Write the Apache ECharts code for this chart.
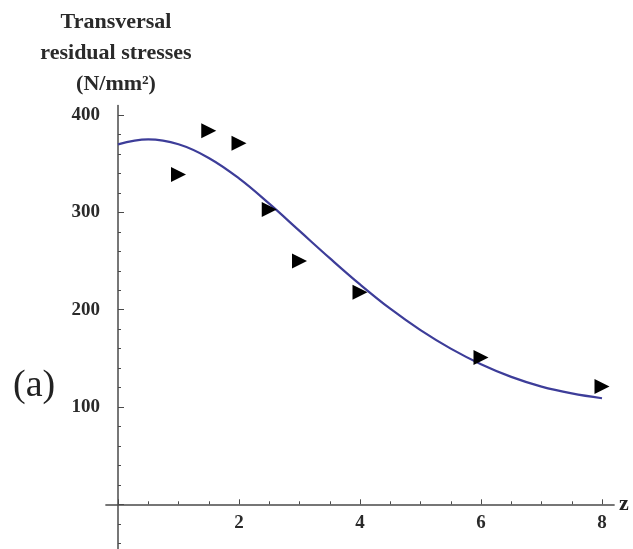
<!DOCTYPE html>
<html>
<head>
<meta charset="utf-8">
<script src="https://cdn.jsdelivr.net/npm/echarts@6/dist/echarts.min.js"></script>
<style>
html,body{margin:0;padding:0;background:#fff;}
#chart{width:633px;height:549px;}
</style>
</head>
<body>
<div id="chart"></div>
<script>
// Measured data points (triangles)
const pointX = [1, 1.5, 2, 2.5, 3, 4, 6, 8];
const pointY = [339, 384, 371, 303, 250, 218, 151, 121];
// Fitted curve, values
const curveX = [0, 0.5, 1, 1.5, 2, 2.5, 3, 3.5, 4, 4.5, 5, 5.5, 6, 6.5, 7, 7.5, 8];
const curveY = [370, 375, 370, 356, 335, 309, 281, 253, 226, 201, 179, 160, 144, 131, 121, 114, 109];
// Ticks and labels
const xMajorTicks = [0, 2, 4, 6, 8];
const xMinorTicks = [0.5, 1, 1.5, 2.5, 3, 3.5, 4.5, 5, 5.5, 6.5, 7, 7.5];
const xLabels = [2, 4, 6, 8];
const yMajorTicks = [-100, 0, 100, 200, 300, 400];
const yMinorTicks = [-80, -60, -40, -20, 20, 40, 60, 80, 120, 140, 160, 180, 220, 240, 260, 280, 320, 340, 360, 380];
const yLabels = [100, 200, 300, 400];
const titleLines = ['Transversal', 'residual stresses', '(N/mm²)'];

const axisColor = '#4a4a4a';
const labelFont = {fontFamily: '"Liberation Serif", "DejaVu Serif", serif', fontWeight: 'bold', fontSize: 19, color: '#2a2a2a'};

const chart = echarts.init(document.getElementById('chart'), null, {renderer: 'canvas'});

const yMin = -100, yMax = 410;
const gridTop = 105.4, gridBottom = -52.6;
const pxPerY = (549 - gridTop - gridBottom) / (yMax - yMin);
const xZeroOffset = -(0 - yMin) * pxPerY; // move x axis up to y = 0

const xBase = {type: 'value', min: -0.2, max: 8.2, splitLine: {show: false}};
const yBase = {type: 'value', min: yMin, max: yMax, splitLine: {show: false}};

chart.setOption({
  animation: false,
  backgroundColor: '#fff',
  grid: {left: 105.9, right: 18.9, top: gridTop, bottom: gridBottom, containLabel: false, outerBoundsMode: 'none'},
  xAxis: [
    Object.assign({}, xBase, {
      position: 'bottom', offset: xZeroOffset,
      name: 'z', nameLocation: 'end', nameGap: 5,
      nameTextStyle: Object.assign({}, labelFont, {fontSize: 22, color: '#222', verticalAlign: 'middle'}),
      axisLine: {show: true, onZero: false, lineStyle: {color: axisColor, width: 1.5}},
      axisTick: {show: true, inside: true, length: 5, customValues: xMajorTicks, lineStyle: {color: axisColor}},
      axisLabel: Object.assign({}, labelFont, {show: true, margin: 9, customValues: xLabels})
    }),
    Object.assign({}, xBase, {
      position: 'bottom', offset: xZeroOffset,
      axisLine: {show: false, onZero: false},
      axisTick: {show: true, inside: true, length: 3, customValues: xMinorTicks, lineStyle: {color: axisColor}},
      axisLabel: {show: false}
    })
  ],
  yAxis: [
    Object.assign({}, yBase, {
      position: 'left',
      axisLine: {show: true, onZero: true, onZeroAxisIndex: 0, lineStyle: {color: axisColor, width: 1.5}},
      axisTick: {show: true, inside: true, length: 6, customValues: yMajorTicks, lineStyle: {color: axisColor}},
      axisLabel: Object.assign({}, labelFont, {show: true, margin: 6, customValues: yLabels})
    }),
    Object.assign({}, yBase, {
      position: 'left',
      axisLine: {show: false, onZero: true, onZeroAxisIndex: 0},
      axisTick: {show: true, inside: true, length: 3, customValues: yMinorTicks, lineStyle: {color: axisColor}},
      axisLabel: {show: false}
    })
  ],
  series: [
    {
      type: 'line',
      xAxisIndex: 0, yAxisIndex: 0,
      data: curveX.map((x, i) => [x, curveY[i]]),
      smooth: 0.4,
      showSymbol: false,
      lineStyle: {color: '#3d3d99', width: 2.2},
      z: 2
    },
    {
      type: 'scatter',
      xAxisIndex: 0, yAxisIndex: 0,
      data: pointX.map((x, i) => [x, pointY[i]]),
      symbol: 'triangle',
      symbolRotate: -90,
      symbolSize: 15,
      itemStyle: {color: '#000', opacity: 1},
      z: 3
    }
  ],
  graphic: [
    {
      type: 'text',
      style: {
        text: titleLines.join('\n'),
        x: 116, y: 7,
        align: 'center', verticalAlign: 'top',
        fontFamily: '"Liberation Serif", serif', fontWeight: 'bold', fontSize: 22,
        lineHeight: 31, fill: '#2a2a2a'
      }
    },
    {
      type: 'text',
      style: {
        text: '(a)', x: 13, y: 386, verticalAlign: 'middle',
        fontFamily: '"Liberation Serif", serif', fontSize: 38, fill: '#222'
      }
    }
  ]
});
</script>
</body>
</html>
